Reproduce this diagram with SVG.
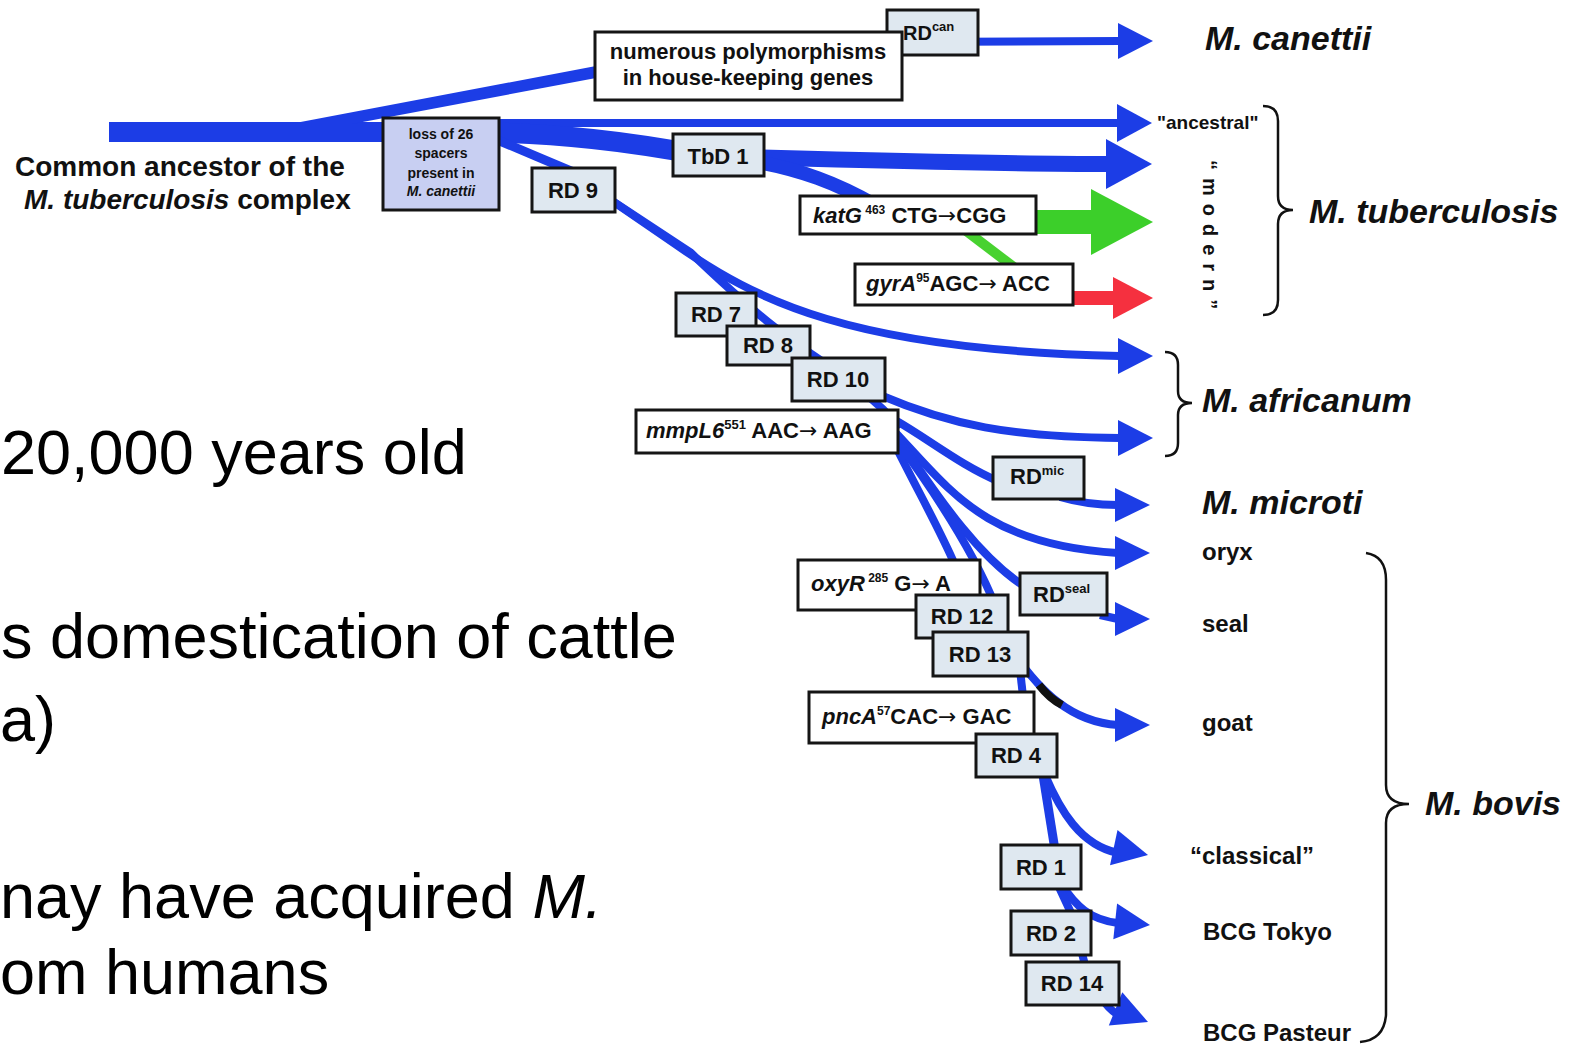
<svg xmlns="http://www.w3.org/2000/svg" width="1581" height="1046" viewBox="0 0 1581 1046">
<style>
.b{fill:none;stroke:#1c3de6;stroke-linecap:butt;stroke-linejoin:round}
.bf{fill:#1c3de6}
.box{fill:#dfe8f0;stroke:#151515;stroke-width:3}
.wb{fill:#ffffff;stroke:#151515;stroke-width:3}
.t{font-family:"Liberation Sans",Arial,sans-serif;font-weight:bold;fill:#111}
.ar{font-family:"DejaVu Sans",sans-serif;font-weight:normal}
.bt{font-size:22px;text-anchor:middle}
.sp{font-family:"Liberation Sans",Arial,sans-serif;font-weight:bold;font-style:italic;font-size:34px;fill:#111}
.lab{font-family:"Liberation Sans",Arial,sans-serif;font-weight:bold;font-size:24px;fill:#111}
.slide{font-family:"Liberation Sans",Arial,sans-serif;font-size:63px;fill:#000}
.br{fill:none;stroke:#111;stroke-width:2.5}
</style>
<defs>
<polygon id="ah" points="-1,-1 0,0 -1,1"/>
</defs>
<rect width="1581" height="1046" fill="#ffffff"/>

<g id="slide-text">
<text class="slide" x="1" y="474">20,000 years old</text>
<text class="slide" x="1" y="658">s domestication of cattle</text>
<text class="slide" x="0" y="741">a)</text>
<text class="slide" x="0" y="918">nay have acquired <tspan font-style="italic">M.</tspan></text>
<text class="slide" x="0" y="994">om humans</text>
</g>

<g id="connectors">
<rect class="bf" x="109" y="122" width="420" height="20"/>
<polygon class="bf" points="290,124 596,66 596,78 352,124"/>
<path class="b" stroke-width="8" d="M596 72 L900 42 L1120 41"/>
<path class="b" stroke-width="8" d="M480 123 L1120 123"/>
<path class="b" stroke-width="20" d="M470 132 C560 133 630 142 700 155"/>
<path class="b" stroke-width="16" d="M740 157 C850 160 1000 164 1110 164"/>
<path class="b" stroke-width="14" d="M745 160 C800 168 840 185 875 205"/>
<path fill="none" stroke="#3ccf2a" stroke-width="24" d="M1030 222 L1096 222"/>
<path fill="none" stroke="#48d230" stroke-width="10" d="M965 230 L1015 268"/>
<path fill="none" stroke="#f5303f" stroke-width="14" d="M1070 298 L1116 298"/>
<path class="b" stroke-width="9" d="M488 136 L578 174"/>
<path class="b" stroke-width="8" d="M605 196 L675 244 C755 300 850 350 1120 356"/>
<path class="b" stroke-width="8" d="M605 196 L690 252 C740 300 800 355 880 395 C950 425 1010 437 1120 438"/>
<path class="b" stroke-width="8" d="M860 390 C880 405 890 415 900 428"/>
<path class="b" stroke-width="8" d="M895 420 C930 440 960 465 1000 482"/>
<path class="b" stroke-width="8" d="M1060 497 C1080 503 1100 505 1118 505"/>
<path class="b" stroke-width="8" d="M895 432 C950 490 985 545 1118 553"/>
<path class="b" stroke-width="8" d="M898 438 C940 500 980 560 1030 590"/>
<path class="b" stroke-width="8" d="M1100 615 L1118 619"/>
<path class="b" stroke-width="8" d="M895 445 C920 495 940 530 955 565"/>
<path class="b" stroke-width="8" d="M900 445 C940 500 975 555 995 605"/>
<path class="b" stroke-width="8" d="M1015 655 C1040 690 1070 722 1118 725"/>
<path fill="none" stroke="#111" stroke-width="8" d="M1039 685 Q1050 699 1062 705"/>
<path class="b" stroke-width="8" d="M1020 670 L1028 740"/>
<path class="b" stroke-width="8" d="M1045 775 C1060 810 1080 845 1118 853"/>
<path class="b" stroke-width="9" d="M1043 775 L1055 850"/>
<path class="b" stroke-width="8" d="M1062 885 C1075 905 1090 920 1118 923"/>
<path class="b" stroke-width="8" d="M1058 885 L1072 915 L1085 965 C1095 990 1105 1008 1120 1016"/>
<use href="#ah" class="bf" transform="translate(1153,41) scale(35,18)"/>
<use href="#ah" class="bf" transform="translate(1152,123) scale(35,19)"/>
<use href="#ah" class="bf" transform="translate(1152,164) scale(46,25)"/>
<use href="#ah" fill="#3ccf2a" transform="translate(1153,222) scale(62,33)"/>
<use href="#ah" fill="#f5303f" transform="translate(1153,298) scale(40,21)"/>
<use href="#ah" class="bf" transform="translate(1153,356) scale(35,18)"/>
<use href="#ah" class="bf" transform="translate(1153,438) scale(35,18)"/>
<use href="#ah" class="bf" transform="translate(1150,505) scale(35,17)"/>
<use href="#ah" class="bf" transform="translate(1150,553) scale(35,17)"/>
<use href="#ah" class="bf" transform="translate(1150,619) scale(35,17)"/>
<use href="#ah" class="bf" transform="translate(1150,725) scale(35,17)"/>
<use href="#ah" class="bf" transform="translate(1148,855) rotate(12) scale(35,18)"/>
<use href="#ah" class="bf" transform="translate(1150,925) rotate(6) scale(35,18)"/>
<use href="#ah" class="bf" transform="translate(1148,1022) rotate(22) scale(35,18)"/>
</g>

<g id="node-rdcan"><rect class="box" x="887" y="10" width="91" height="45"/><text class="t" x="903" y="40" font-size="20">RD<tspan font-size="13" dy="-9">can</tspan></text></g>
<g id="node-numerous"><rect class="wb" x="595" y="32" width="307" height="68"/><text class="t bt" x="748" y="59" font-size="21">numerous polymorphisms</text><text class="t bt" x="748" y="85" font-size="21">in house-keeping genes</text></g>
<g id="node-loss"><rect x="383" y="118" width="116" height="92" fill="#c8cff2" stroke="#151515" stroke-width="3"/>
<text class="t" x="441" y="139" font-size="14" text-anchor="middle">loss of 26</text>
<text class="t" x="441" y="158" font-size="14" text-anchor="middle">spacers</text>
<text class="t" x="441" y="178" font-size="14" text-anchor="middle">present in</text>
<text class="t" x="441" y="196" font-size="14" text-anchor="middle" font-style="italic">M. canettii</text></g>
<g id="node-rd9"><rect class="box" x="532" y="168" width="83" height="44"/><text class="t bt" x="573" y="198">RD 9</text></g>
<g id="node-tbd1"><rect class="box" x="673" y="134" width="91" height="42"/><text class="t bt" x="718" y="164">TbD 1</text></g>
<g id="node-katg"><rect class="wb" x="800" y="196" width="236" height="38"/><text class="t" x="813" y="223" font-size="22"><tspan font-style="italic">katG</tspan><tspan font-size="12" dy="-9"> 463</tspan><tspan dy="9"> CTG</tspan><tspan class="ar">→</tspan>CGG</text></g>
<g id="node-gyra"><rect class="wb" x="855" y="264" width="218" height="41"/><text class="t" x="866" y="291" font-size="22"><tspan font-style="italic">gyrA</tspan><tspan font-size="12" dy="-9">95</tspan><tspan dy="9">AGC</tspan><tspan class="ar">→</tspan> ACC</text></g>
<g id="node-rd7"><rect class="box" x="676" y="293" width="80" height="43"/><text class="t bt" x="716" y="322">RD 7</text></g>
<g id="node-rd8"><rect class="box" x="727" y="326" width="83" height="39"/><text class="t bt" x="768" y="353">RD 8</text></g>
<g id="node-rd10"><rect class="box" x="792" y="358" width="93" height="43"/><text class="t bt" x="838" y="387">RD 10</text></g>
<g id="node-mmpl6"><rect class="wb" x="636" y="410" width="262" height="43"/><text class="t" x="646" y="438" font-size="22"><tspan font-style="italic">mmpL6</tspan><tspan font-size="13" dy="-9">551</tspan><tspan dy="9"> AAC</tspan><tspan class="ar">→</tspan> AAG</text></g>
<g id="node-rdmic"><rect class="box" x="993" y="457" width="91" height="42"/><text class="t" x="1010" y="484" font-size="22">RD<tspan font-size="13" dy="-9">mic</tspan></text></g>
<g id="node-oxyr"><rect class="wb" x="798" y="560" width="182" height="50"/><text class="t" x="811" y="591" font-size="22"><tspan font-style="italic">oxyR</tspan><tspan font-size="12" dy="-9"> 285</tspan><tspan dy="9"> G</tspan><tspan class="ar">→</tspan> A</text></g>
<g id="node-rdseal"><rect class="box" x="1020" y="573" width="87" height="42"/><text class="t" x="1033" y="602" font-size="22">RD<tspan font-size="13" dy="-9">seal</tspan></text></g>
<g id="node-rd12"><rect class="box" x="916" y="595" width="92" height="43"/><text class="t bt" x="962" y="624">RD 12</text></g>
<g id="node-rd13"><rect class="box" x="933" y="632" width="95" height="44"/><text class="t bt" x="980" y="662">RD 13</text></g>
<g id="node-pnca"><rect class="wb" x="809" y="692" width="225" height="51"/><text class="t" x="822" y="724" font-size="22"><tspan font-style="italic">pncA</tspan><tspan font-size="12" dy="-9">57</tspan><tspan dy="9">CAC</tspan><tspan class="ar">→</tspan> GAC</text></g>
<g id="node-rd4"><rect class="box" x="976" y="734" width="81" height="43"/><text class="t bt" x="1016" y="763">RD 4</text></g>
<g id="node-rd1"><rect class="box" x="1001" y="845" width="80" height="44"/><text class="t bt" x="1041" y="875">RD 1</text></g>
<g id="node-rd2"><rect class="box" x="1011" y="911" width="80" height="44"/><text class="t bt" x="1051" y="941">RD 2</text></g>
<g id="node-rd14"><rect class="box" x="1026" y="962" width="93" height="43"/><text class="t bt" x="1072" y="991">RD 14</text></g>

<g id="node-ancestor">
<text class="t" x="15" y="176" font-size="28">Common ancestor of the</text>
<text class="t" x="24" y="209" font-size="28"><tspan font-style="italic">M. tuberculosis</tspan> complex</text>
</g>

<g id="labels">
<text class="sp" x="1205" y="50">M. canettii</text>
<text class="t" x="1157" y="129" font-size="19">"ancestral"</text>
<text class="t" font-size="20" letter-spacing="8" transform="translate(1203,160) rotate(90)">“modern”</text>
<path class="br" d="M1263 106 Q1278 106 1278 121 L1278 196 Q1278 210 1293 210 Q1278 210 1278 224 L1278 300 Q1278 315 1263 315"/>
<text class="sp" x="1309" y="223">M. tuberculosis</text>
<path class="br" d="M1165 352 Q1178 352 1178 365 L1178 391 Q1178 403 1192 403 Q1178 403 1178 415 L1178 443 Q1178 456 1165 456"/>
<text class="sp" x="1202" y="412">M. africanum</text>
<text class="sp" x="1202" y="514">M. microti</text>
<text class="lab" x="1202" y="560">oryx</text>
<text class="lab" x="1202" y="632">seal</text>
<text class="lab" x="1202" y="731">goat</text>
<text class="lab" x="1190" y="864">“classical”</text>
<text class="lab" x="1203" y="940">BCG Tokyo</text>
<text class="lab" x="1203" y="1041">BCG Pasteur</text>
<path class="br" d="M1366 553 Q1386 556 1386 580 L1386 785 Q1386 804 1409 804 Q1386 804 1386 823 L1386 1015 Q1384 1040 1360 1042"/>
<text class="sp" x="1425" y="815">M. bovis</text>
</g>
</svg>
